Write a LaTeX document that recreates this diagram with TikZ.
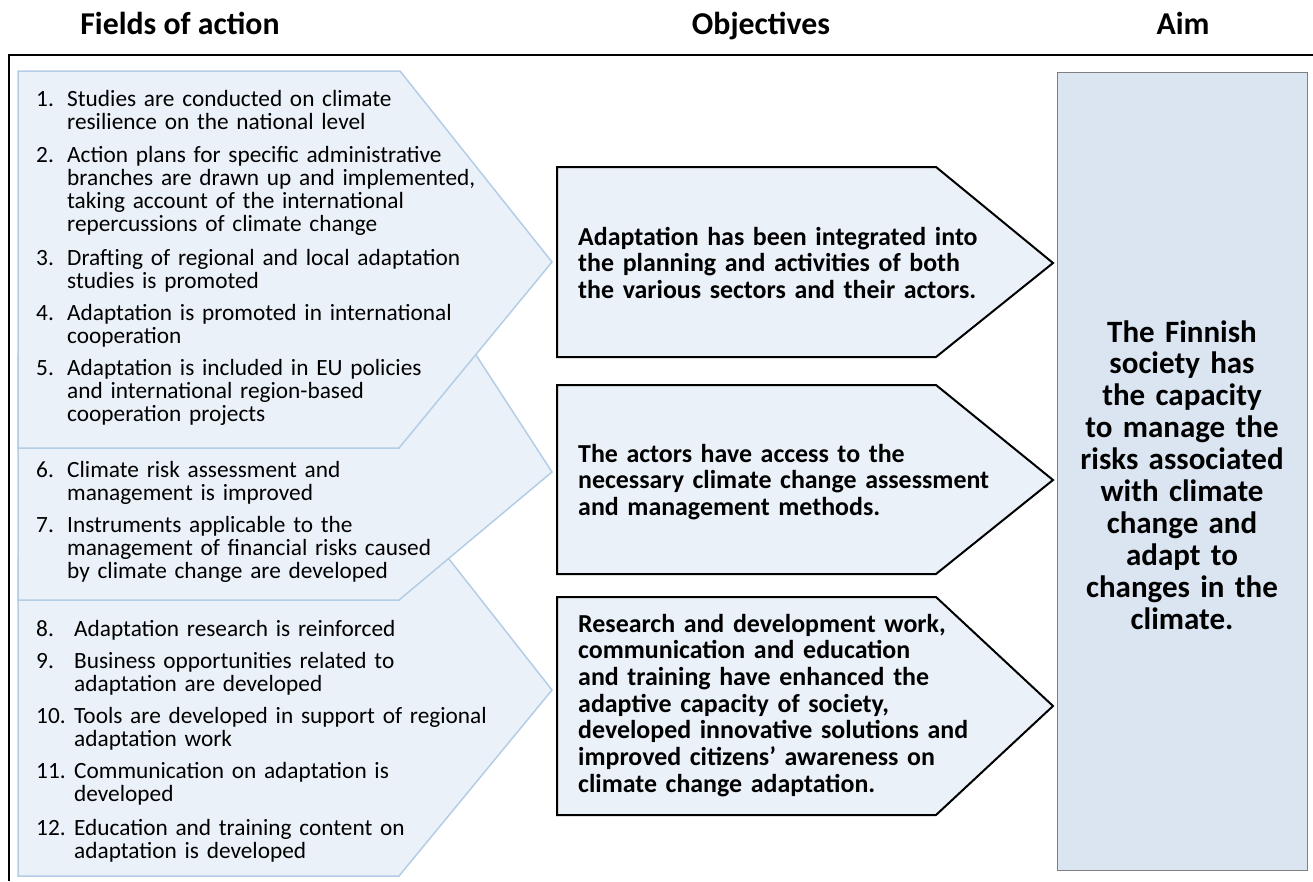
\documentclass[tikz,border=0pt]{standalone}
\usepackage{fontspec}
\setmainfont{Carlito}
\usepackage{tikz}
\definecolor{fieldfill}{HTML}{EAF1F8}
\definecolor{fieldline}{HTML}{B4CDE6}
\definecolor{aimfill}{HTML}{DBE5F1}
\definecolor{aimline}{HTML}{7F7F7F}
\tikzset{
  hdr/.style={anchor=base, inner sep=0pt, font=\bfseries\fontsize{31.8}{34}\selectfont},
  num/.style={anchor=base west, inner sep=0pt, font=\fontsize{23.3}{23}\selectfont},
  itm/.style={anchor=base west, inner sep=0pt, text width=520pt, align=left, font=\fontsize{23.3}{23}\selectfont},
  obj/.style={anchor=base west, inner sep=0pt, text width=520pt, align=left, font=\bfseries\fontsize{25.9}{26.7}\selectfont},
  aimtxt/.style={anchor=base, inner sep=0pt, text width=250pt, align=center, font=\bfseries\fontsize{31}{31.9}\selectfont},
  fieldshape/.style={fill=fieldfill, draw=fieldline, line width=1.5pt},
  objshape/.style={fill=fieldfill, draw=black, line width=2pt},
}
\begin{document}
\begin{tikzpicture}[x=1pt,y=-1pt]
\useasboundingbox (0,0) rectangle (1313,881);
% headings and frame
\node[hdr] (hfields) at (180,34) {Fields of action};
\node[hdr] (hobj) at (761,34) {Objectives};
\node[hdr] (haim) at (1183,34) {Aim};
\draw[line width=2.5pt] (9,881) -- (9,55) -- (1313,55);
% fields of action
\draw[fieldshape] (18,559) -- (449,559) -- (552,690) -- (399,876) -- (18,876) -- cycle;
\draw[fieldshape] (18,355) -- (476,355) -- (552,472) -- (399,600) -- (18,600) -- cycle;
\draw[fieldshape] (18,71) -- (400,71) -- (552,262) -- (399,448) -- (18,448) -- cycle;
\node[num] (n1) at (36,106) {1.};
\node[itm] (f1) at (67,106) {Studies are conducted on climate\\resilience on the national level};
\node[num] (n2) at (36,162) {2.};
\node[itm] (f2) at (67,162) {Action plans for specific administrative\\branches are drawn up and implemented,\\taking account of the international\\repercussions of climate change};
\node[num] (n3) at (36,265) {3.};
\node[itm] (f3) at (67,265) {Drafting of regional and local adaptation\\studies is promoted};
\node[num] (n4) at (36,320) {4.};
\node[itm] (f4) at (67,320) {Adaptation is promoted in international\\cooperation};
\node[num] (n5) at (36,375) {5.};
\node[itm] (f5) at (67,375) {Adaptation is included in EU policies\\and international region-based\\cooperation projects};
\node[num] (n6) at (36,477) {6.};
\node[itm] (f6) at (67,477) {Climate risk assessment and\\management is improved};
\node[num] (n7) at (36,532) {7.};
\node[itm] (f7) at (67,532) {Instruments applicable to the\\management of financial risks caused\\by climate change are developed};
\node[num] (n8) at (36,636) {8.};
\node[itm] (f8) at (74,636) {Adaptation research is reinforced};
\node[num] (n9) at (36,668) {9.};
\node[itm] (f9) at (74,668) {Business opportunities related to\\adaptation are developed};
\node[num] (n10) at (36,723) {10.};
\node[itm] (f10) at (74,723) {Tools are developed in support of regional\\adaptation work};
\node[num] (n11) at (36,778) {11.};
\node[itm] (f11) at (74,778) {Communication on adaptation is\\developed};
\node[num] (n12) at (36,835) {12.};
\node[itm] (f12) at (74,835) {Education and training content on\\adaptation is developed};
% objectives
\draw[objshape] (557,167) -- (936,167) -- (1053,263) -- (936,357) -- (557,357) -- cycle;
\draw[objshape] (557,385) -- (936,385) -- (1053,480) -- (936,574) -- (557,574) -- cycle;
\draw[objshape] (557,597) -- (936,597) -- (1053,706) -- (936,815) -- (557,815) -- cycle;
\node[obj] (o1) at (578,245) {Adaptation has been integrated into\\the planning and activities of both\\the various sectors and their actors.};
\node[obj] (o2) at (578,462) {The actors have access to the\\necessary climate change assessment\\and management methods.};
\node[obj] (o3) at (578,632) {Research and development work,\\communication and education\\and training have enhanced the\\adaptive capacity of society,\\developed innovative solutions and\\improved citizens’ awareness on\\climate change adaptation.};
% aim
\draw[fill=aimfill, draw=aimline, line width=1pt] (1057,72) rectangle (1307,870);
\node[aimtxt] (aim) at (1182,342) {The Finnish\\society has\\the capacity\\to manage the\\risks associated\\with climate\\change and\\adapt to\\changes in the\\climate.};
\end{tikzpicture}
\end{document}
